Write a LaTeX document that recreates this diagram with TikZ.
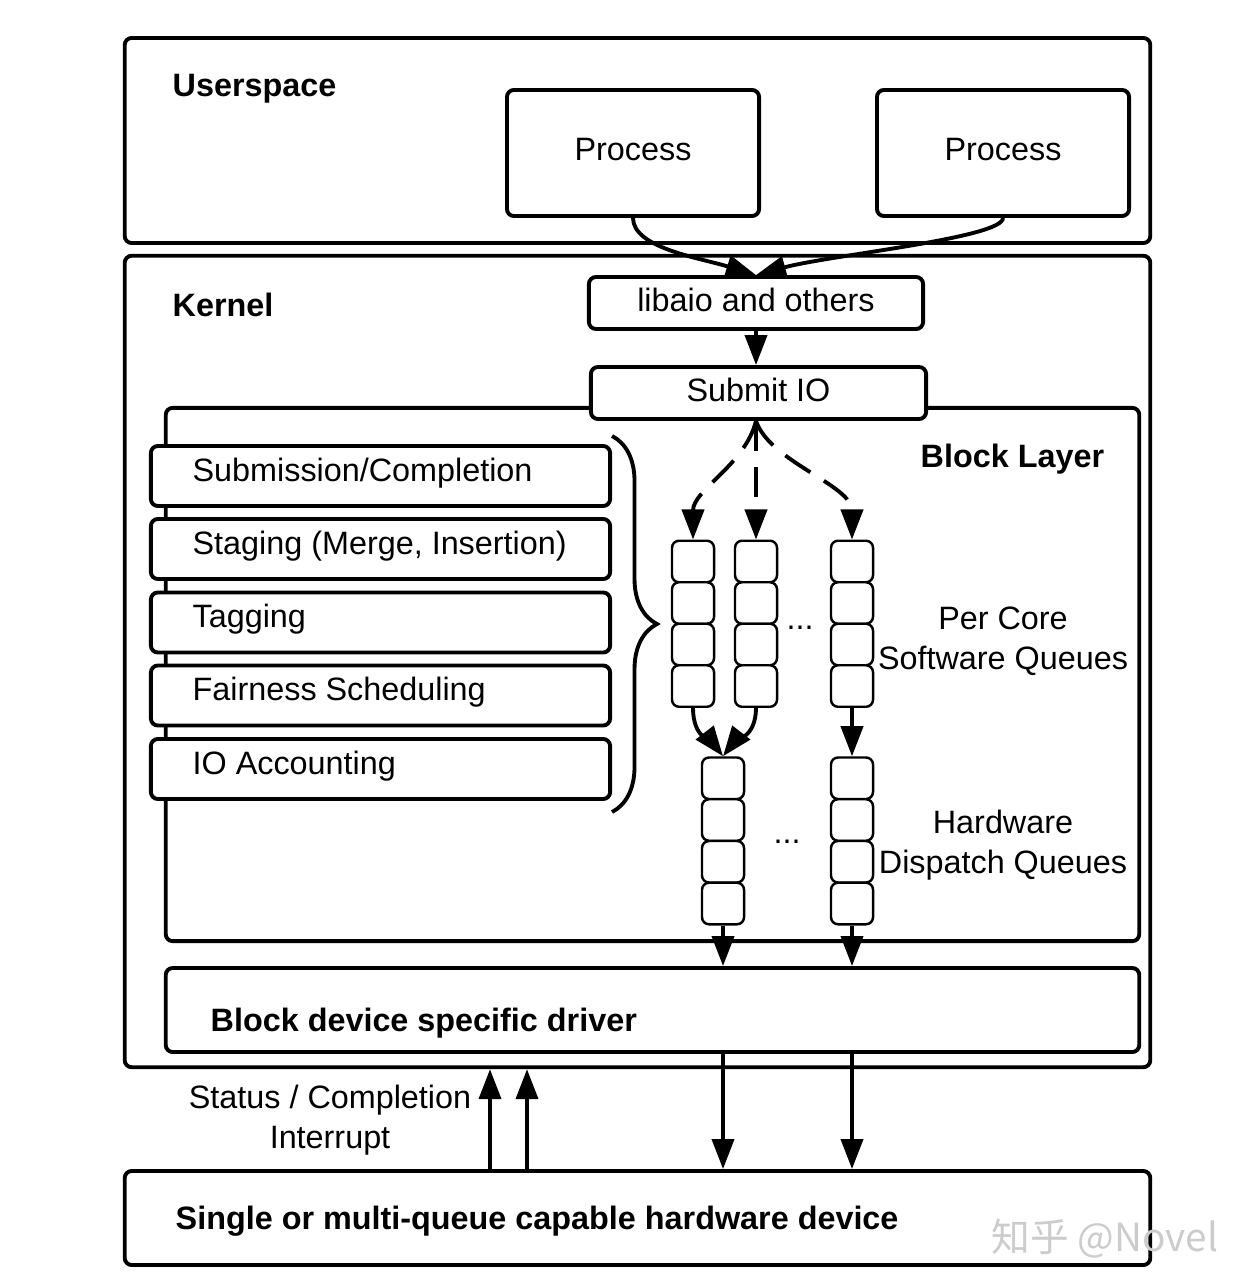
\documentclass[tikz,border=0pt]{standalone}
\usepackage{fontspec}
\setmainfont{Liberation Sans}
\newfontfamily\cjk{Noto Sans CJK SC}
\usetikzlibrary{arrows.meta,decorations.pathreplacing,calc}

\begin{document}
\begin{tikzpicture}[x=0.01cm,y=-0.01cm,
    font=\fontsize{9.2pt}{11.4pt}\selectfont,
    box/.style={draw, line width=1.1pt, rounded corners=2pt, fill=white, inner sep=0pt},
    textbox/.style={box, text depth=0.07cm},
    stackbox/.style={box, minimum width=4.59cm, minimum height=0.6cm},
    cell/.style={draw, line width=0.7pt, rounded corners=2pt, fill=white, inner sep=0pt,
        minimum width=0.42cm, minimum height=0.415cm},
    title/.style={font=\fontsize{9.2pt}{11.4pt}\selectfont\bfseries, anchor=west, inner sep=0pt},
    lefttext/.style={anchor=west, inner sep=0pt},
    arr/.style={line width=1.1pt, -{Triangle[length=0.3cm,width=0.22cm]}},
    dasharr/.style={arr, dash pattern=on 0.3cm off 0.16cm}]
    \useasboundingbox (0,0) rectangle (1246,1288);

    % userspace
    \node[box, minimum width=10.25cm, minimum height=2.05cm] (user) at (637.5,140.5) {};
    \node[title] (usertxt) at (172,89) {Userspace};
    \node[textbox, minimum width=2.52cm, minimum height=1.26cm] (proc1) at (633,153) {Process};
    \node[textbox, minimum width=2.52cm, minimum height=1.26cm] (proc2) at (1003,153) {Process};

    % kernel and block layer
    \node[box, minimum width=10.25cm, minimum height=8.11cm] (kernel) at (637.5,661.5) {};
    \node[title] (kerneltxt) at (172,305) {Kernel};
    \node[box, minimum width=9.73cm, minimum height=5.33cm] (block) at (652.5,674.5) {};
    \node[title] (blocktxt) at (920,459) {Block Layer};
    \node[textbox, minimum width=3.34cm, minimum height=0.52cm] (libaio) at (756,303) {libaio and others};
    \node[textbox, minimum width=3.35cm, minimum height=0.52cm] (submit) at (758.5,393) {Submit IO};

    % stages of the block layer
    \foreach \n/\y/\t in {subm/476/{Submission/Completion}, stage/549/{Staging (Merge, Insertion)},
        tag/622.5/{Tagging}, fair/695.5/{Fairness Scheduling}, acct/769/{IO Accounting}} {
        \node[stackbox] (\n) at (380.5,\y) {};
        \node[lefttext] (\n-t) at ($(\n.west)+(43,-3)$) {\t};
    }
    \draw[line width=1.1pt, decorate, decoration={brace, amplitude=0.45cm}] (612,436) -- (612,812);

    % software and hardware queues
    \foreach \c/\x in {1/693,2/756,3/852}
        \foreach \r in {1,...,4}
            \node[cell] (sw\c-\r) at (\x,520+41.5*\r) {};
    \foreach \c/\x in {1/723,2/852}
        \foreach \r in {1,...,4}
            \node[cell] (hw\c-\r) at (\x,736.5+41.75*\r) {};
    \node (swdots) at (800,628) {...};
    \node (hwdots) at (787,842) {...};
    \node[align=center] (swlbl) at (1003,641) {Per Core\\Software Queues};
    \node[align=center] (hwlbl) at (1003,845) {Hardware\\Dispatch Queues};

    % driver and device
    \node[box, minimum width=9.73cm, minimum height=0.84cm] (driver) at (652.5,1010) {};
    \node[title] (drivertxt) at (210,1023) {Block device specific driver};
    \node[box, minimum width=10.25cm, minimum height=0.94cm] (device) at (637.5,1218) {};
    \node[title] (devicetxt) at (175,1221) {Single or multi-queue capable hardware device};
    \node[align=center] (irqlbl) at (330,1120) {Status / Completion\\Interrupt};
    \coordinate (irq1) at (490,1171);
    \coordinate (irq2) at (527,1171);

    % arrows
    \draw[arr] (proc1.south) .. controls (633,248) and (700,258) .. (libaio.north);
    \draw[arr] (proc2.south) .. controls (1003,238) and (830,255) .. (libaio.north);
    \draw[arr] (libaio.south) -- (libaio.south |- submit.north);
    \draw[dasharr] (sw2-1.north |- submit.south) .. controls (745,465) and (693,490) .. (sw1-1.north);
    \draw[dasharr] (sw2-1.north |- submit.south) -- (sw2-1.north);
    \draw[dasharr] (sw2-1.north |- submit.south) .. controls (770,462) and (852,485) .. (sw3-1.north);
    \draw[arr] (sw1-4.south) .. controls (693,738) and (712,742) .. (hw1-1.north);
    \draw[arr] (sw2-4.south) .. controls (756,738) and (734,742) .. (hw1-1.north);
    \draw[arr] (sw3-4.south) -- (hw2-1.north);
    \draw[arr] (hw1-4.south) -- (hw1-4.south |- driver.north);
    \draw[arr] (hw2-4.south) -- (hw2-4.south |- driver.north);
    \draw[arr] (hw1-4.south |- driver.south) -- (hw1-4.south |- device.north);
    \draw[arr] (hw2-4.south |- driver.south) -- (hw2-4.south |- device.north);
    \draw[arr] (irq1) -- (irq1 |- kernel.south);
    \draw[arr] (irq2) -- (irq2 |- kernel.south);

    \node[text=gray!40, font=\cjk\fontsize{11pt}{13pt}\selectfont] (mark) at (1105,1239) {知乎 @Novel};
\end{tikzpicture}
\end{document}
